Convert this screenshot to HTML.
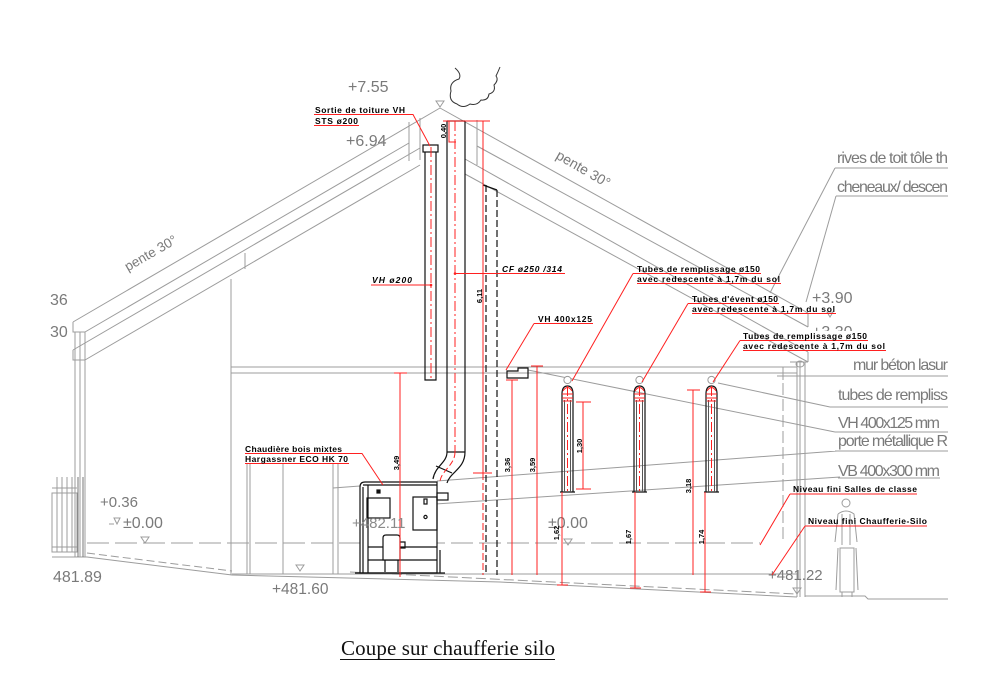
<!DOCTYPE html>
<html><head><meta charset="utf-8"><style>html,body{margin:0;padding:0;background:#fff}svg{display:block}</style></head>
<body>
<svg width="1000" height="691" viewBox="0 0 1000 691" xmlns="http://www.w3.org/2000/svg">
<rect width="1000" height="691" fill="#fff"/>

<!-- ===== gray structure ===== -->
<g fill="none" stroke="#9c9c9c" stroke-width="1">
  <!-- left roof -->
  <path d="M73,322 L440,108 M85,332 L409,143 M73,350 L420,148 M85,360 L420,165"/>
  <path d="M73,322 V332 H85 M73,350 V360 H85"/>
  <path d="M75,332 V557 M80,332 V557 M85,332 V557"/>
  <path d="M245,253 V269 M231,279 V575"/>
  <!-- sleeves at chimney -->
  <path d="M409,122 V161 M420,118 V160 M477,120 V165"/>
  <!-- right roof -->
  <path d="M440,108 L808,313 M477,146 L808,327 M465,159 L808,352 M465,174 L808,362"/>
  <path d="M808,313 V327 M808,352 V362 M790,362 H808"/>
  <!-- ceiling -->
  <path d="M231,367 H797 M231,373 H797"/>
  <!-- right wall -->
  <path d="M797,362 V597 M800,362 V597 M805,362 V597"/>
  <ellipse cx="800" cy="364" rx="4" ry="3"/>
  <path d="M783,367 V543" stroke-dasharray="12,4"/>
  <!-- floor / ground -->
  <path d="M232,574 H797"/>
  <path d="M52,557 H87 L232,575 L500,582 L797,597"/>
  <path d="M87,553 L232,571" stroke-dasharray="8,4"/>
  <path d="M350,572 L797,594" stroke-dasharray="10,4"/>
  <path d="M805,596 H865 L868,599 H948"/>
  <path d="M87,543 H760" stroke-dasharray="22,6"/>
  <!-- door lines -->
  <path d="M247,463 V574 M250,463 V574 M283,463 V574 M333,463 V574 M338,463 V574"/>
  <!-- fence -->
  <rect x="52" y="493" width="25" height="59"/>
  <path d="M57,477 V552 M62,477 V552 M67,477 V552 M72,477 V552 M52,488 H77 M52,547 H77"/>
  <path d="M78,477 V557 M83,477 V557" stroke="#777"/>
  <!-- level triangles -->
  <path d="M440,107 L436,101 H444 Z"/>
  <path d="M145,543 L141,537 H149 Z M300,571 L296,565 H304 Z M378,543 L374,537 H382 Z M568,545 L564,539 H572 Z M797,594 L793,588 H801 Z M830,317 L827,312 H833 Z"/>
  <path d="M109,524 H114 M117,524 L114,518 H120 Z"/>
  <!-- right labels underlines & leaders -->
  <path d="M835,168 H948 M835,168 L773,287 L770,293"/>
  <path d="M836,196 H948 M836,196 L806,302"/>
  <path d="M777,376 H948 M783,372 V380"/>
  <path d="M830,407 H948 M830,407 L718,383"/>
  <path d="M835,432 H948 M835,432 L528,370"/>
  <path d="M835,451 H948 M837,451 L437,481 M360,486 L333,488"/>
  <path d="M838,478 H940 M840,477 L390,507"/>
  <!-- person -->
  <circle cx="846" cy="503" r="4"/>
  <path d="M838,514 Q846,508 854,514 L857,542 M838,514 L835,542 M842,514 L842,545 M850,514 L850,545 M840,548 H854 V592 H840 Z M842,592 V597 M852,592 V597 M836,596 H858"/>
  <path d="M838,548 L836,590 M856,548 L858,590"/>
</g>

<!-- gray texts -->
<g font-family="Liberation Sans, sans-serif" fill="#7a7a7a" font-size="16">
  <text x="348" y="92">+7.55</text>
  <text x="346" y="146">+6.94</text>
  <text x="50" y="305">36</text>
  <text x="50" y="337">30</text>
  <text x="100" y="507" font-size="15">+0.36</text>
  <text x="123" y="528">±0.00</text>
  <text x="53" y="582">481.89</text>
  <text x="272" y="594" font-size="15.5">+481.60</text>
  <text x="548" y="528">±0.00</text>
  <text x="768" y="580" font-size="15">+481.22</text>
  <text x="812" y="303">+3.90</text>
  <text x="812" y="337">+3.30</text>
  <text transform="translate(153,257) rotate(-30)" text-anchor="middle" font-size="13.5">pente 30°</text>
  <text transform="translate(581,173) rotate(30)" text-anchor="middle" font-size="14">pente 30°</text>
  <text x="837" y="163" textLength="111">rives de toit tôle th</text>
  <text x="837" y="192" textLength="111">cheneaux/ descen</text>
  <text x="853" y="370" textLength="95">mur béton lasur</text>
  <text x="838" y="400" textLength="110">tubes de rempliss</text>
  <text x="838" y="428" textLength="102">VH 400x125 mm</text>
  <text x="838" y="446" textLength="110">porte métallique R</text>
  <text x="838" y="476" textLength="102">VB 400x300 mm</text>
</g>
<rect x="809" y="331" width="50" height="9" fill="#fff"/>

<!-- cloud -->
<path d="M455,68 Q462,74 459,79 Q449,82 451,91 Q448,101 457,104 Q463,109 470,104 Q477,106 481,100 Q488,101 489,94 Q496,92 494,85 Q499,80 496,76 Q498,72 500,67" fill="none" stroke="#333" stroke-width="1"/>

<!-- ===== black elements ===== -->
<g fill="none" stroke="#111" stroke-width="1.2">
  <!-- VH 200 pipe -->
  <rect x="423" y="145" width="15" height="7"/>
  <path d="M425,152 V380 H436 V152"/>
  <!-- CF chimney -->
  <path d="M447,121 V452 M465,121 V452 M447,121 H465 M447,452 H465"/>
  <path d="M447,452 C447,463 435,466 433,479 M465,452 C465,469 450,472 447,483 M436,466 L452,473"/>
  <!-- dashed silo wall -->
  <path d="M486,185 V575 M497,190 V575" stroke-dasharray="7,3"/>
  <path d="M483,185 L497,190"/>
  <!-- VH 400x125 duct -->
  <path d="M507,371 H518 V368 H528 V378 H507 Z"/>
  <!-- boiler -->
  <path d="M360,573 V487 Q360,482 365,482 H437 V573 Z" fill="#fff"/>
  <path d="M363,573 V487 M368,485 V573 M363,485 H437"/>
  <rect x="367" y="498" width="23" height="20"/>
  <rect x="413" y="497" width="24" height="33"/>
  <rect x="437" y="493" width="11" height="7"/>
  <rect x="377" y="490" width="3" height="3" fill="#111"/>
  <rect x="424" y="499" width="3" height="5"/>
  <circle cx="425.5" cy="517" r="1.6"/>
  <path d="M368,547 H437 M368,560 H437 M440,550 V573 M355,573 H445"/>
  <path d="M383,560 V538 Q383,535 386,535 H397 Q400,535 400,538 V560 Z" fill="#fff"/>
  <path d="M400,542 H405 V548 H400 M385,560 V572 M398,560 V572"/>
  <!-- tubes -->
  <path d="M562,492 V394 Q562,386 567.5,386 Q573,386 573,394 V492 Z M560,492 H575"/>
  <path d="M634,492 V394 Q634,386 639.5,386 Q645,386 645,394 V492 Z M632,492 H647"/>
  <path d="M706,492 V394 Q706,386 711.5,386 Q717,386 717,394 V492 Z M704,492 H719"/>
  <path d="M564.5,400 V492 M570.5,400 V492 M636.5,400 V492 M642.5,400 V492 M708.5,400 V492 M714.5,400 V492" stroke="#555" stroke-width="1"/>
</g>
<g fill="#fff" stroke="#999">
  <circle cx="567.5" cy="380" r="3.6"/>
  <circle cx="639.5" cy="380" r="3.6"/>
  <circle cx="711.5" cy="380" r="3.6"/>
</g>

<!-- ===== red elements ===== -->
<g fill="none" stroke="#ff2020" stroke-width="1">
  <!-- center lines -->
  <path d="M431,147 V380 M455,121 V452 M567.5,386 V492 M639.5,386 V492 M711.5,386 V492" stroke-dasharray="10,3,2,3"/>
  <path d="M455,452 C455,465 442,470 440,481" stroke-dasharray="6,3"/>
  <!-- tube caps -->
  <path d="M562,394 H573 M562,398 H573 M563,401 H572 M634,394 H645 M634,398 H645 M635,401 H644 M706,394 H717 M706,398 H717 M707,401 H716"/>
  <path d="M563,391 Q567.5,384 572,391 M635,391 Q639.5,384 644,391 M707,391 Q711.5,384 716,391"/>
  <!-- dims -->
  <path d="M443,121 H490 M449,121 V142 H456"/>
  <path d="M483,121 V473 M473,473 H492"/>
  <path d="M483,473 V575" stroke-dasharray="7,3"/>
  <path d="M400,373 V577 M394,373 H407"/>
  <path d="M512,380 V575 M506,380 H518"/>
  <path d="M537,366 V575 M531,366 H543"/>
  <path d="M583,402 V489 M576,402 H591 M576,489 H591"/>
  <path d="M693,390 V575 M687,390 H700"/>
  <path d="M562,492 V585 M557,585 H568"/>
  <path d="M635,492 V588 M630,588 H641"/>
  <path d="M705,492 V592 M700,592 H711"/>
  <!-- leaders / underlines -->
  <path d="M314,114.5 H413 L430,146 M314,125.5 H359"/>
  <path d="M371,285 H431"/>
  <path d="M455,273.5 H565"/>
  <path d="M534,323.5 H593 M534,323.5 L506,370"/>
  <path d="M633,273.5 H761 M633,273.5 L572,381 M637,283.5 H781"/>
  <path d="M688,303.5 H779 M688,303.5 L642,382 M692,313.5 H836"/>
  <path d="M740,340.5 H868 M740,340.5 L713,382 M743,350.5 H886"/>
  <path d="M245,453.5 H362 L383,485 M245,463.5 H349"/>
  <path d="M790,494 H917 M790,494 L760,545 M805,526 H927 M805,526 L772,575"/>
</g>
<g fill="#ff2020">
  <circle cx="431" cy="285" r="1.3"/>
  <circle cx="455" cy="273.5" r="1.3"/>
</g>

<!-- ===== black CAD text ===== -->
<g font-family="Liberation Sans, sans-serif" fill="#000" font-size="8.5" font-weight="bold">
  <text x="315" y="113" textLength="90">Sortie de toiture VH</text>
  <text x="315" y="124" textLength="43">STS ø200</text>
  <text x="372" y="283" textLength="40" font-style="italic">VH ø200</text>
  <text x="502" y="272" textLength="60" font-style="italic">CF ø250 /314</text>
  <text x="538" y="322" textLength="54">VH 400x125</text>
  <text x="637" y="272" textLength="123">Tubes de remplissage ø150</text>
  <text x="637" y="282" textLength="143">avec redescente à 1,7m du sol</text>
  <text x="692" y="302" textLength="86">Tubes d'évent ø150</text>
  <text x="692" y="312" textLength="143">avec redescente à 1,7m du sol</text>
  <text x="743" y="339" textLength="124">Tubes de remplissage ø150</text>
  <text x="743" y="349" textLength="142">avec redescente à 1,7m du sol</text>
  <text x="245" y="452" textLength="97">Chaudière bois mixtes</text>
  <text x="245" y="462" textLength="103">Hargassner ECO HK 70</text>
  <text x="793" y="492" textLength="124">Niveau fini Salles de classe</text>
  <text x="808" y="524" textLength="119">Niveau fini Chaufferie-Silo</text>
</g>
<g font-family="Liberation Sans, sans-serif" fill="#000" font-size="7.5" font-weight="bold" text-anchor="middle">
  <text transform="translate(443,131) rotate(-90)" y="3">0,40</text>
  <text transform="translate(479,296) rotate(-90)" y="3">6,11</text>
  <text transform="translate(396,463) rotate(-90)" y="3">3,49</text>
  <text transform="translate(507,465) rotate(-90)" y="3">3,36</text>
  <text transform="translate(532,465) rotate(-90)" y="3">3,59</text>
  <text transform="translate(579,446) rotate(-90)" y="3">1,30</text>
  <text transform="translate(556,533) rotate(-90)" y="3">1,62</text>
  <text transform="translate(628,537) rotate(-90)" y="3">1,67</text>
  <text transform="translate(688,486) rotate(-90)" y="3">3,18</text>
  <text transform="translate(701,537) rotate(-90)" y="3">1,74</text>
</g>

<!-- gray text over boiler -->
<text x="352" y="528" font-family="Liberation Sans, sans-serif" font-size="15" fill="#8a8a8a">+482.11</text>

<!-- title -->
<text x="341" y="655" font-family="Liberation Serif, serif" font-size="21" fill="#111" textLength="214">Coupe sur chaufferie silo</text>
<path d="M340,659.5 H555" stroke="#111" stroke-width="1"/>
</svg>
</body></html>
